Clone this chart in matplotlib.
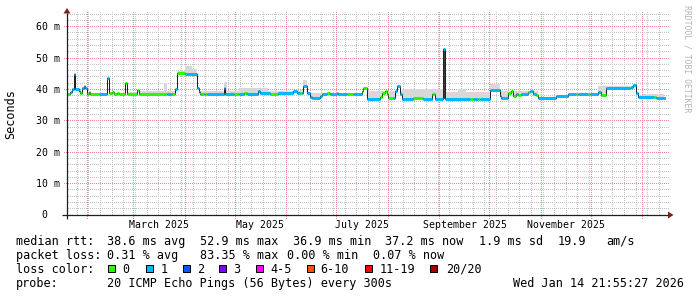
import matplotlib
matplotlib.use('Agg')
import matplotlib.pyplot as plt
import matplotlib.dates as mdates
import matplotlib.transforms as mtrans
from matplotlib.patches import Rectangle, Polygon
import numpy as np
import pandas as pd

# ---------------- data ----------------
t_start = "2025-01-19 21:55:27"
t_end = "2026-01-14 21:55:27"

seg_dates = [
    "2025-01-19 22:00", "2025-01-22", "2025-01-23", "2025-01-24", "2025-01-25", "2025-01-27",
    "2025-01-28", "2025-01-29", "2025-01-30", "2025-01-31", "2025-02-01", "2025-02-02",
    "2025-02-03", "2025-02-08", "2025-02-13", "2025-02-14", "2025-02-16", "2025-02-17",
    "2025-02-19", "2025-02-20", "2025-02-24", "2025-02-25", "2025-03-03", "2025-03-04",
    "2025-03-21", "2025-03-24", "2025-03-26", "2025-03-27", "2025-04-01", "2025-04-08",
    "2025-04-09", "2025-04-10", "2025-04-12", "2025-04-13", "2025-04-14", "2025-04-24",
    "2025-04-25", "2025-04-30", "2025-05-03", "2025-05-06", "2025-05-08", "2025-05-15",
    "2025-05-16", "2025-05-22", "2025-05-27", "2025-06-05", "2025-06-07", "2025-06-09",
    "2025-06-10", "2025-06-11", "2025-06-13", "2025-06-15", "2025-06-16", "2025-06-21",
    "2025-06-22", "2025-06-25", "2025-06-27", "2025-07-01", "2025-07-02", "2025-07-07",
    "2025-07-11", "2025-07-16", "2025-07-17", "2025-07-19", "2025-07-27", "2025-07-28",
    "2025-07-30", "2025-07-31", "2025-08-01", "2025-08-04", "2025-08-05", "2025-08-06",
    "2025-08-08", "2025-08-09", "2025-08-16", "2025-08-22", "2025-08-27", "2025-08-29",
    "2025-09-03", "2025-09-04", "2025-09-19", "2025-09-21", "2025-09-24", "2025-09-25",
    "2025-10-01", "2025-10-07", "2025-10-08", "2025-10-12", "2025-10-14", "2025-10-15",
    "2025-10-17", "2025-10-18", "2025-10-20", "2025-10-24", "2025-10-25", "2025-10-27",
    "2025-10-29", "2025-10-30", "2025-11-10", "2025-11-17", "2025-11-22", "2025-11-23",
    "2025-11-29", "2025-11-30", "2025-12-05", "2025-12-07", "2025-12-10", "2025-12-24",
    "2025-12-25", "2025-12-26", "2025-12-28", "2025-12-29", "2026-01-08", "2026-01-09",
    "2026-01-13",
]
seg_median = [
    38.5, 39.2, 40.2, 44.8, 40.0, 39.6,
    38.8, 40.5, 41.2, 40.3, 38.6, 39.2,
    38.5, 38.4, 43.7, 38.8, 39.3, 38.6,
    39.0, 38.5, 42.1, 38.5, 39.8, 38.6,
    38.5, 38.6, 40.0, 45.1, 44.8, 40.3,
    39.3, 38.5, 38.4, 38.5, 38.5, 40.5,
    38.5, 38.7, 38.7, 38.8, 38.7, 39.6,
    38.8, 38.7, 38.8, 39.6, 38.8, 38.9,
    38.9, 41.0, 38.9, 37.7, 37.2, 38.0,
    38.7, 38.8, 38.7, 38.9, 38.6, 38.7,
    38.6, 39.5, 40.3, 36.9, 37.6, 39.0,
    39.6, 38.5, 37.3, 37.4, 39.5, 41.0,
    38.5, 37.1, 37.2, 37.1, 38.7, 37.1,
    52.9, 37.0, 37.1, 37.0, 37.1, 37.0,
    39.8, 37.8, 37.2, 38.8, 39.6, 38.0,
    38.6, 38.2, 38.7, 39.3, 39.4, 38.7,
    38.3, 37.2, 37.9, 38.4, 38.5, 38.4,
    38.5, 38.4, 39.1, 38.3, 40.6, 40.6,
    40.7, 41.4, 39.0, 37.5, 37.5, 37.3,
    37.2,
]
seg_loss = [
    0, 1, 1, 1, 1, 1,
    0, 1, 1, 1, 0, 0,
    0, 1, 1, 0, 0, 0,
    0, 0, 0, 0, 0, 0,
    1, 0, 1, 0, 1, 1,
    1, 0, 1, 0, 1, 1,
    1, 0, 1, 0, 1, 1,
    1, 0, 1, 1, 1, 0,
    1, 1, 1, 1, 1, 1,
    1, 0, 1, 1, 1, 0,
    1, 0, 0, 1, 0, 0,
    0, 0, 0, 1, 1, 1,
    1, 1, 0, 1, 0, 1,
    1, 1, 0, 1, 0, 1,
    1, 1, 1, 0, 0, 0,
    1, 0, 1, 0, 1, 1,
    0, 1, 1, 1, 0, 1,
    0, 1, 1, 0, 1, 0,
    1, 1, 1, 1, 0, 1,
    1,
]

smoke_from = ["2025-02-24", "2025-03-04", "2025-03-19", "2025-03-21", "2025-03-27", "2025-04-01",
              "2025-04-05", "2025-04-08", "2025-04-10", "2025-04-24", "2025-04-26", "2025-05-03",
              "2025-05-21", "2025-06-09", "2025-06-11", "2025-06-13", "2025-07-19", "2025-08-09",
              "2025-09-04", "2025-09-12", "2025-09-17", "2025-10-01", "2025-10-07", "2025-12-05",
              "2026-01-01"]
smoke_to = ["2025-03-04", "2025-03-19", "2025-03-21", "2025-03-27", "2025-04-01", "2025-04-05",
            "2025-04-08", "2025-04-10", "2025-04-24", "2025-04-26", "2025-05-03", "2025-05-21",
            "2025-06-09", "2025-06-11", "2025-06-13", "2025-07-19", "2025-08-09", "2025-09-03",
            "2025-09-12", "2025-09-17", "2025-10-01", "2025-10-07", "2025-10-30", "2025-12-28",
            "2026-01-14"]
smoke_top = [39.2, 39.5, 42.0, 39.5, 46.0, 47.5,
             46.5, 40.5, 39.5, 42.5, 39.5, 40.5,
             39.5, 39.8, 43.0, 39.0, 39.5, 40.2,
             39.2, 40.2, 39.2, 41.8, 39.6, 41.2,
             38.6]

spike_from = "2025-09-03"
spike_to = "2025-09-04"
spike_low = 37.0
spike_high = 52.9

y_ticks = [0, 10, 20, 30, 40, 50, 60]
y_tick_labels = ["0", "10 m", "20 m", "30 m", "40 m", "50 m", "60 m"]
x_label_months = ["2025-03-01", "2025-05-01", "2025-07-01", "2025-09-01", "2025-11-01"]
x_label_texts = ["March 2025", "May 2025", "July 2025", "September 2025", "November 2025"]

legend_rtt = [("median rtt:", 16), ("38.6 ms avg", 107.3), ("52.9 ms max", 200),
              ("36.9 ms min", 292.7), ("37.2 ms now", 385), ("1.9 ms sd", 479),
              ("19.9", 558), ("am/s", 606.7)]
legend_loss = [("packet loss:", 16), ("0.31 % avg", 107.3), ("83.35 % max", 200),
               ("0.00 % min", 286.7), ("0.07 % now", 372.7)]
loss_colors = ['#26ff00', '#00b8ff', '#0059ff', '#7e00ff', '#ff00ff', '#ff5500', '#ff0000', '#a10000']
loss_labels = ["0", "1", "2", "3", "4-5", "6-10", "11-19", "20/20"]
probe_text = "20 ICMP Echo Pings (56 Bytes) every 300s"
stamp_text = "Wed Jan 14 21:55:27 2026"

# ---------------- figure ----------------
W, H, DPI = 697, 297, 100
MONO = 'DejaVu Sans Mono'
GRID_RGB = (196, 196, 196)
MGRID_RGB = (234, 140, 140)
AXIS_C = '#1f1f1f'
ARROW_C = '#801f1f'
SMOKE_C = '#d8d8d8'

fig = plt.figure(figsize=(W / DPI, H / DPI), dpi=DPI)
fig.patch.set_facecolor('white')

ax = fig.add_axes([67 / W, (H - 215) / H, 599 / W, 202.5 / H])
ax.axis('off')
d = lambda s: mdates.date2num(pd.Timestamp(s))
x0, x1 = d(t_start), d(t_end)
ax.set_xlim(x0, x1)
ax.set_ylim(0, 64.5)

# ---- dotted grid rendered pixel-exact as a figure image ----
grid = np.zeros((H, W, 4), dtype=np.uint8)

def col_of(t):
    return int(np.floor(ax.transData.transform((t, 0))[0]))

def row_of(v):
    return int(np.floor(H - ax.transData.transform((x0, v))[1]))

top_row, bot_row = row_of(64.5), row_of(0)
left_col, right_col = col_of(x0), col_of(x1)

def vline(c, r0, r1, rgb):
    for r in range(r0, r1 + 1):
        if r % 2 == 0:
            grid[r, c] = (*rgb, 255)

def hline(r, c0, c1, rgb):
    for c in range(c0, c1 + 1):
        if c % 2 == 0:
            grid[r, c] = (*rgb, 255)

for v in np.arange(2, 64.5, 2):
    if int(v) % 10:
        hline(row_of(v), left_col + 1, right_col + 2, GRID_RGB)
for s in pd.date_range("2025-01-20", "2026-01-14", freq="W-SUN"):
    vline(col_of(mdates.date2num(s)), top_row, bot_row - 1, GRID_RGB)
for v in y_ticks[1:]:
    hline(row_of(v), left_col - 3, right_col + 2, MGRID_RGB)
for s in pd.date_range("2025-02-01", "2026-01-01", freq="MS"):
    vline(col_of(mdates.date2num(s)), top_row, bot_row + 3, MGRID_RGB)
fig.figimage(grid, xo=0, yo=0, origin='upper', zorder=-1)

# series
sx = np.array([d(s) for s in seg_dates] + [x1])
sy = np.array(seg_median, dtype=float)

def median_at(t):
    i = np.searchsorted(sx, t, side='right') - 1
    return sy[max(0, min(i, len(sy) - 1))]

# smoke
for a, b, top in zip(smoke_from, smoke_to, smoke_top):
    ta, tb = d(a), d(b)
    pts = [ta] + [p for p in sx if ta < p < tb] + [tb]
    for p, q in zip(pts[:-1], pts[1:]):
        m = median_at(p)
        if top > m:
            ax.fill_between([p, q], [m, m], [top, top], color=SMOKE_C, lw=0, zorder=2)
ax.fill_between([d(spike_from), d(spike_to)], [spike_low] * 2, [spike_high] * 2,
                color='#3c3c3c', lw=0, zorder=2.5)

# median black line
ax.step(sx, np.append(sy, sy[-1]), where='post', color='#202020', lw=0.72, zorder=3)

# loss coloured median
for k in range(len(sy)):
    ax.hlines(sy[k], sx[k], sx[k + 1], colors=loss_colors[seg_loss[k]], lw=2.2,
              zorder=4, capstyle='butt')

# ---------------- overlay (axes, labels, legend) ----------------
ov = fig.add_axes([0, 0, 1, 1])
ov.set_xlim(0, W)
ov.set_ylim(H, 0)
ov.axis('off')
ov.patch.set_alpha(0)

ov.plot([62, 668], [215, 215], color=AXIS_C, lw=0.9, solid_capstyle='butt')
ov.plot([67, 67], [219, 13], color=AXIS_C, lw=0.9, solid_capstyle='butt')
ov.add_patch(Polygon([[668, 211.5], [668, 218.5], [673.5, 215]], closed=True, color=ARROW_C, lw=0))
ov.add_patch(Polygon([[63.5, 13.5], [70.5, 13.5], [67, 8]], closed=True, color=ARROW_C, lw=0))

tr_y = mtrans.offset_copy(mtrans.blended_transform_factory(ov.transData, ax.transData),
                          fig=fig, x=0, y=-3.5, units='dots')
for v, lab in zip(y_ticks, y_tick_labels):
    xl = 60 if v else 47
    ov.text(xl, v, lab, transform=tr_y, ha='right', va='baseline', fontsize=7.1,
            family=MONO, color='black')

tr_x = mtrans.blended_transform_factory(ax.transData, ov.transData)
for m, lab in zip(x_label_months, x_label_texts):
    xc = d(m) + 15
    ov.text(xc, 228.4, lab, transform=tr_x, ha='center', va='baseline', fontsize=7.1,
            family=MONO, color='black')

ov.text(10.5, 114, "Seconds", rotation=90, ha='center', va='center', fontsize=8.5,
        family=MONO, color='black')
ov.text(687.5, 59, "RRDTOOL / TOBI OETIKER", rotation=270, ha='center', va='center',
        fontsize=5.9, family=MONO, color='#b4b4b4')

LF = 8.5
for txt, xx in legend_rtt:
    ov.text(xx, 245, txt, ha='left', va='baseline', fontsize=LF, family=MONO)
for txt, xx in legend_loss:
    ov.text(xx, 259, txt, ha='left', va='baseline', fontsize=LF, family=MONO)
ov.text(16, 273, "loss color:", ha='left', va='baseline', fontsize=LF, family=MONO)
sq_x = [108.3, 146, 182.7, 219.3, 256, 306.7, 365, 430]
lab_x = [122.7, 161, 196.7, 233.3, 270, 320.7, 379.3, 446]
for c, lab, xs, xl in zip(loss_colors, loss_labels, sq_x, lab_x):
    ov.add_patch(Rectangle((xs, 264.5), 7, 7, facecolor=c, edgecolor='black', lw=0.72))
    ov.text(xl, 273, lab, ha='left', va='baseline', fontsize=LF, family=MONO)
ov.text(16, 287, "probe:", ha='left', va='baseline', fontsize=LF, family=MONO)
ov.text(107.3, 287, probe_text, ha='left', va='baseline', fontsize=LF, family=MONO)
ov.text(513.3, 287, stamp_text, ha='left', va='baseline', fontsize=LF, family=MONO)

fig.savefig('out.png', dpi=DPI, facecolor='white')
